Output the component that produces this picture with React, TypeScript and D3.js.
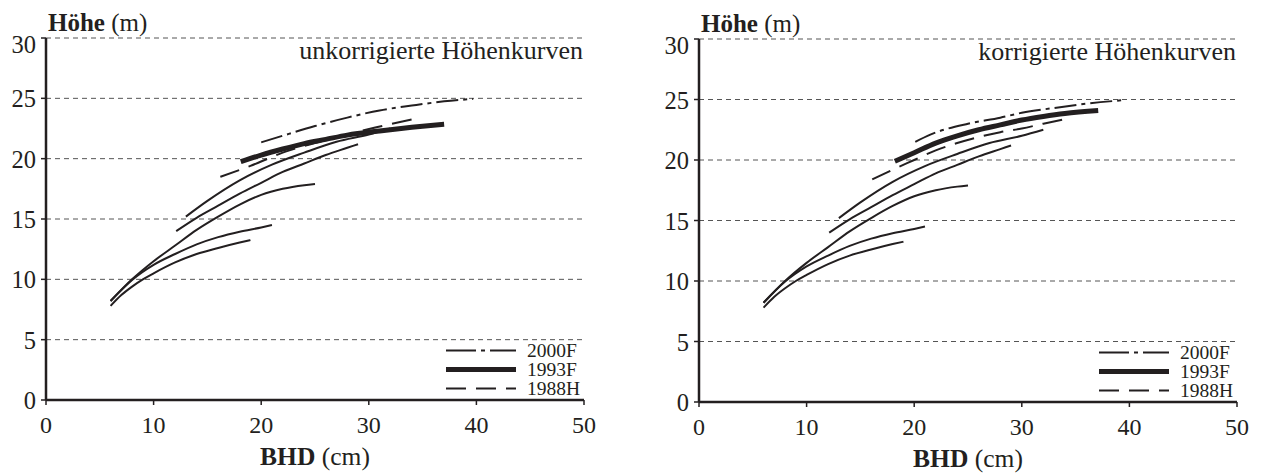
import React from "react";
import * as d3 from "d3";

type Pt = [number, number];

const xTicks = [0, 10, 20, 30, 40, 50];
const yTicks = [0, 5, 10, 15, 20, 25, 30];
const legendLabels = ["2000F", "1993F", "1988H"];

// thin solid height curves (same in both panels)
const curveS1: Pt[] = [[6, 8.2], [8, 10.0], [10, 11.5], [12, 12.8], [14, 14.1], [16, 15.2], [18, 16.2], [20, 17.0], [22, 17.5], [24, 17.8], [25, 17.9]];
const curveS2: Pt[] = [[6, 8.2], [8, 9.95], [10, 11.2], [12, 12.1], [14, 12.9], [16, 13.5], [18, 13.95], [20, 14.3], [21, 14.5]];
const curveS3: Pt[] = [[6, 7.8], [7, 8.7], [8, 9.4], [9, 10.0], [10, 10.5], [12, 11.4], [14, 12.1], [16, 12.6], [18, 13.05], [19, 13.25]];
const curveS4: Pt[] = [[12.1, 14.0], [14, 15.1], [16, 16.1], [18, 17.1], [20, 18.0], [22, 18.9], [24, 19.6], [26, 20.3], [28, 20.9], [29, 21.2]];
const curveS5: Pt[] = [[13, 15.2], [15, 16.5], [18, 18.2], [21, 19.5], [24, 20.5], [27, 21.4], [30, 22.0], [32, 22.5]];

// uncorrected
const f2000Unkorr: Pt[] = [[20, 21.35], [22, 21.9], [25, 22.7], [28, 23.4], [31, 24.0], [34, 24.4], [37, 24.75], [39.7, 24.95]];
const f1993Unkorr: Pt[] = [[18.1, 19.75], [20, 20.3], [22, 20.8], [24, 21.25], [26, 21.6], [28, 21.95], [31, 22.3], [34, 22.6], [37, 22.85]];
const h1988Unkorr: Pt[] = [[16.2, 18.5], [19, 19.4], [22, 20.5], [25, 21.3], [28, 22.0], [30.7, 22.6], [34.3, 23.3]];

// corrected
const f2000Korr: Pt[] = [[20.1, 21.5], [21.5, 22.1], [25, 23.0], [28, 23.5], [30, 23.9], [33, 24.3], [36, 24.65], [39.6, 24.96]];
const f1993Korr: Pt[] = [[18.2, 19.9], [20, 20.6], [22, 21.4], [24, 22.0], [26, 22.5], [28, 22.9], [30, 23.3], [32, 23.6], [34, 23.85], [37.1, 24.1]];
const h1988Korr: Pt[] = [[16.1, 18.4], [18, 19.2], [20, 20.0], [22, 20.8], [24, 21.4], [26, 21.9], [28, 22.3], [30, 22.6], [32, 23.0], [34.2, 23.4]];

const thinCurves = [curveS1, curveS2, curveS3, curveS4, curveS5];

const INK = "#231f20";
const FONT = "'Liberation Serif', 'Times New Roman', serif";
const PW = 538;

const panels = [
  { left: 46, top: 38, bottom: 400, label: "unkorrigierte Höhenkurven", f2000: f2000Unkorr, f1993: f1993Unkorr, h1988: h1988Unkorr },
  { left: 699, top: 39, bottom: 402, label: "korrigierte Höhenkurven", f2000: f2000Korr, f1993: f1993Korr, h1988: h1988Korr },
];

const styles = [
  { dash: "22,5,4,5", width: 2, legendDash: "30,5,4,5" },
  { dash: undefined, width: 5, legendDash: undefined },
  { dash: "20,10", width: 2, legendDash: "20,10" },
];

function Panel({ p }: { p: typeof panels[number] }) {
  const x = d3.scaleLinear().domain([0, 50]).range([p.left, p.left + PW]);
  const y = d3.scaleLinear().domain([0, 30]).range([p.bottom, p.top]);
  const line = d3
    .line<Pt>()
    .x((d) => x(d[0]))
    .y((d) => y(d[1]))
    .curve(d3.curveMonotoneX);
  const right = x(50);
  const series = [p.f2000, p.f1993, p.h1988];
  const rowY = [p.bottom - 49.5, p.bottom - 30.5, p.bottom - 11.5];
  return (
    <g>
      {yTicks.filter((v) => v > 0).map((v) => (
        <line key={"g" + v} x1={x(0)} x2={right} y1={y(v)} y2={y(v)} stroke="#555" strokeWidth={1} strokeDasharray="5,4" />
      ))}
      {thinCurves.map((c, i) => (
        <path key={"t" + i} d={line(c) || ""} fill="none" stroke={INK} strokeWidth={2} />
      ))}
      {series.map((s, i) => (
        <path key={"s" + i} d={line(s) || ""} fill="none" stroke={INK} strokeWidth={styles[i].width} strokeDasharray={styles[i].dash} />
      ))}
      {/* axes */}
      <line x1={x(0)} x2={x(0)} y1={y(0)} y2={y(30)} stroke={INK} strokeWidth={2.5} />
      <line x1={x(0)} x2={right} y1={y(0)} y2={y(0)} stroke={INK} strokeWidth={2.5} />
      {yTicks.map((v) => (
        <g key={"yt" + v}>
          <line x1={x(0) - 5} x2={x(0)} y1={y(v)} y2={y(v)} stroke={INK} strokeWidth={1.5} />
          <text x={x(0) - 10} y={Math.max(y(v) + 9, p.top + 15)} textAnchor="end" fontSize={24.5} fontFamily={FONT} fill={INK}>
            {v}
          </text>
        </g>
      ))}
      {xTicks.map((v) => (
        <g key={"xt" + v}>
          <line x1={x(v)} x2={x(v)} y1={y(0)} y2={y(0) + 5} stroke={INK} strokeWidth={1.5} />
          <text x={x(v)} y={y(0) + 33} textAnchor="middle" fontSize={24} fontFamily={FONT} fill={INK}>
            {v}
          </text>
        </g>
      ))}
      <text x={x(0) + 2} y={p.top - 7} fontSize={25} fontFamily={FONT} fill={INK}>
        <tspan fontWeight="bold">Höhe</tspan> (m)
      </text>
      <text x={(x(0) + right) / 2} y={p.bottom + 65} textAnchor="middle" fontSize={25.5} fontFamily={FONT} fill={INK}>
        <tspan fontWeight="bold">BHD</tspan> (cm)
      </text>
      <text x={right - 1} y={p.top + 21} textAnchor="end" fontSize={26} fontFamily={FONT} fill={INK}>
        {p.label}
      </text>
      {legendLabels.map((l, i) => (
        <g key={"lg" + i}>
          <line x1={right - 138} x2={right - 68} y1={rowY[i]} y2={rowY[i]} stroke={INK} strokeWidth={styles[i].width} strokeDasharray={styles[i].legendDash} />
          <text x={right - 57} y={rowY[i] + 6.5} fontSize={19.5} fontFamily={FONT} fill={INK}>
            {l}
          </text>
        </g>
      ))}
    </g>
  );
}

export default function App() {
  return (
    <svg width={1261} height={473} style={{ position: "absolute", left: 0, top: 0, background: "#fff" }}>
      {panels.map((p, i) => (
        <Panel key={i} p={p} />
      ))}
    </svg>
  );
}
